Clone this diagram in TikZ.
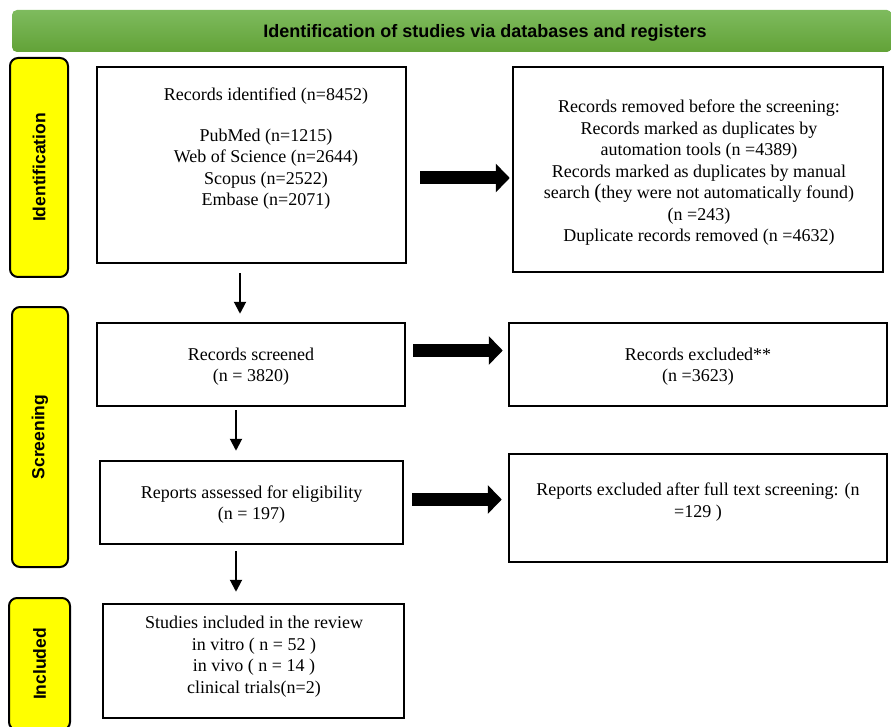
\documentclass[tikz,border=0pt]{standalone}
\usepackage{fontspec}
\setmainfont{Liberation Serif}
\setsansfont{Liberation Sans}
\usetikzlibrary{arrows.meta,calc}
\definecolor{bantop}{RGB}{126,187,94}
\definecolor{banbot}{RGB}{98,162,55}
\definecolor{sideyellow}{RGB}{255,255,0}
\begin{document}
\begin{tikzpicture}[x=1pt,y=-1pt,
  box/.style={draw=black, line width=2.5pt, fill=white, inner sep=0pt, align=center, font=\fontsize{18}{21.5}\selectfont},
  txt/.style={align=center, inner sep=0pt, font=\fontsize{18}{21.5}\selectfont},
  side/.style={draw=black, line width=2pt, fill=sideyellow, rounded corners=8pt, rotate=90, inner sep=0pt, font=\sffamily\bfseries\fontsize{17.5}{20}\selectfont},
  banner/.style={rounded corners=5pt, top color=bantop, bottom color=banbot, inner sep=0pt},
  bantext/.style={inner sep=0pt, font=\sffamily\bfseries\fontsize{18}{20}\selectfont},
  bigarrow/.style={line width=13pt, -{Triangle[length=14pt 0 0, width=28pt 0 0]}},
  thinarrow/.style={line width=2pt, -{Triangle[length=12pt 0 0, width=12pt 0 0]}}]
\useasboundingbox (0,0) rectangle (891,727);

% banner
\node[banner, minimum width=880pt, minimum height=42pt] (ban) at (452,31) {};
\node[bantext] (bant) at (485,33) {Identification of studies via databases and registers};

% side labels
\node[side, minimum width=219pt, minimum height=58pt] (sid) at (39,167.5) {Identification};
\node[side, minimum width=260pt, minimum height=56pt] (sscr) at (40,437) {Screening};
\node[side, minimum width=132pt, minimum height=61pt] (sinc) at (39.5,664) {Included};

% boxes
\node[box, minimum width=309pt, minimum height=196pt] (b1) at (251.5,165) {};
\node[txt] (b1t) at (266,149) {Records identified (n=8452)\\[19pt] PubMed (n=1215)\\ Web of Science (n=2644)\\ Scopus (n=2522)\\ Embase (n=2071)};

\node[box, minimum width=370pt, minimum height=205pt] (b2) at (698,169.5) {};
\node[txt] (b2t) at (699,173) {Records removed before the screening:\\
Records marked as duplicates by\\
automation tools (n =4389)\\
Records marked as duplicates by manual\\
search {\fontsize{21}{21.5}\selectfont(}they were not automatically found)\\
(n =243)\\
Duplicate records removed (n =4632)};

\node[box, minimum width=308pt, minimum height=83pt] (b3) at (251,364.5) {};
\node[txt] (b3t) at (251,366.5) {Records screened\\ (n = 3820)};
\node[box, minimum width=378pt, minimum height=83pt] (b4) at (698,364.5) {};
\node[txt] (b4t) at (698,366.5) {Records excluded**\\ (n =3623)};

\node[box, minimum width=303pt, minimum height=83pt] (b5) at (251.5,502.5) {};
\node[txt] (b5t) at (251.5,504.5) {Reports assessed for eligibility\\ (n = 197)};
\node[box, minimum width=378pt, minimum height=108pt] (b6) at (698,508) {};
\node[txt] (b6t) at (698,502) {Reports excluded after full text screening: (n\\ =129 )};

\node[box, minimum width=301pt, minimum height=114pt] (b7) at (253.5,661) {};
\node[txt] (b7t) at (254,656.5) {Studies included in the review\\ in vitro ( n = 52 )\\ in vivo ( n = 14 )\\ clinical trials(n=2)};

% big arrows
\draw[bigarrow] ($(b1.east)+(13,13)$) -- ($(b2.west)+(-2,8.5)$);
\draw[bigarrow] ($(b3.east)+(7,-14)$) -- ($(b4.west)+(-5,-14)$);
\draw[bigarrow] ($(b5.east)+(8,-3)$) -- ($(b6.west)+(-6,-8.5)$);

% thin arrows
\draw[thinarrow] ($(b1.south)+(-11.5,9)$) -- ($(b3.north)+(-11,-8)$);
\draw[thinarrow] ($(b3.south)+(-15,3)$) -- ($(b5.north)+(-15.5,-9)$);
\draw[thinarrow] ($(b5.south)+(-15.5,6)$) -- ($(b7.north)+(-17.5,-11)$);
\end{tikzpicture}
\end{document}
